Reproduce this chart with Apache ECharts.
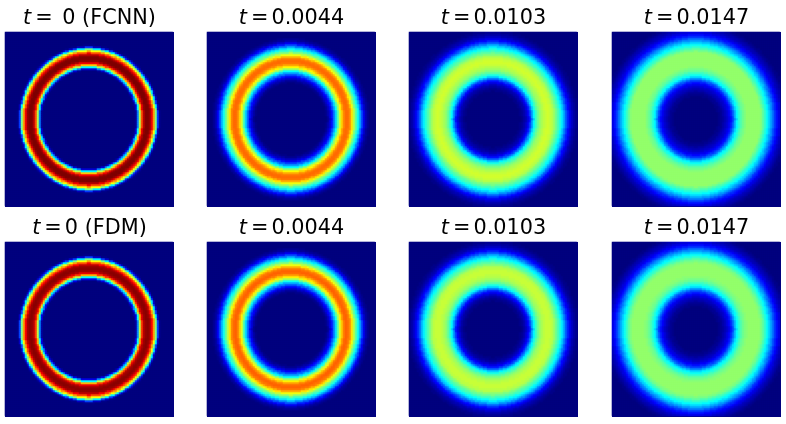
<!DOCTYPE html>
<html><head><meta charset="utf-8">
<style>html,body{margin:0;padding:0;background:#fff}#c{width:786px;height:424px}</style>
<script src="https://cdn.jsdelivr.net/npm/echarts@6/dist/echarts.min.js"></script>
</head><body><div id="c"></div>
<script>
// Each ring is stored as a radial profile: percent of full scale,
// one entry per half grid cell of radius, starting after the empty centre (hole).
const hole = n => Array(n).fill(0);
const cols = 84, rows = 87, refCells = 85;
const fcnn0 = hole(48).concat([2,8,25,37,55,68,80,89,95,98,100,100,100,100,98,95,89,80,72,62,50,36,18,6,1]);
const fcnn1 = hole(36).concat([1,2,4,6,8,11,14,19,23,28,33,38,45,52,58,63,67,71,74,76,77,77,77,76,74,70,65,61,56,51,47,43,39,35,30,25,20,15,11,8,5,3,2,1]);
const fcnn2 = hole(28).concat([1,1,2,3,4,5,7,9,11,14,18,22,27,32,37,40,43,46,48,50,52,53,54,55,56,57,57,58,58,58,57,57,56,55,53,51,49,47,45,43,41,38,36,33,30,26,22,19,16,13,11,9,7,5,4,3,2,1,1]);
const fcnn3 = hole(23).concat([1,1,2,2,3,4,5,6,7,8,10,11,13,15,18,21,25,29,33,37,39,41,43,45,47,48,49,50,51,52,52,52,52,52,52,52,52,52,52,52,52,52,52,51,49,47,45,43,41,39,37,34,32,29,27,24,21,18,16,14,12,10,9,7,6,5,4,3,2,1,1]);
const fdm0 = hole(48).concat([3,10,26,38,56,70,82,90,95,97,98,99,99,98,97,94,88,80,72,62,50,36,19,7,1]);
const fdm1 = hole(36).concat([1,2,4,6,9,12,15,20,24,29,34,39,46,53,59,64,68,72,75,77,78,78,77,76,74,70,65,61,56,51,47,43,39,35,30,25,20,15,11,8,5,3,2,1]);
const fdm2 = hole(28).concat([1,1,2,3,4,6,8,10,12,15,19,23,28,33,37,40,43,46,48,50,52,53,54,55,56,56,57,57,57,57,57,56,56,55,53,51,49,47,45,43,41,38,36,33,30,26,22,19,16,13,11,9,7,5,4,3,2,1,1]);
const fdm3 = hole(23).concat([1,1,2,2,3,4,5,6,7,9,10,12,14,16,19,22,26,30,34,37,39,41,43,45,47,48,49,50,51,51,52,52,52,52,52,52,52,52,52,52,52,52,51,50,49,47,45,43,41,39,37,34,32,29,27,24,21,18,16,14,12,10,9,7,6,5,4,3,2,1,1]);
const profiles = [fcnn0,fcnn1,fcnn2,fcnn3,fdm0,fdm1,fdm2,fdm3];

const panelLeft = [5,207,409,612], panelTop = [32,242], panelW = 169, panelH = 175;
const jet = ['#00007f','#0000ff','#007fff','#00ffff','#7fff7f','#ffff00','#ff7f00','#ff0000','#7f0000'];
const labels = ['{i|t}{e|=}{n| 0 (FCNN)}','{i|t}{e|=}{n|0.0044}','{i|t}{e|=}{n|0.0103}','{i|t}{e|=}{n|0.0147}',
 '{i|t}{e|=}{n|0 (FDM)}','{i|t}{e|=}{n|0.0044}','{i|t}{e|=}{n|0.0103}','{i|t}{e|=}{n|0.0147}'];
const font = 'DejaVu Sans', fs = 20.8, c = '#000';
const rich = {
  i:{fontFamily:font,fontSize:fs,fontStyle:'italic',fontWeight:'normal',color:c},
  e:{fontFamily:font,fontSize:fs,fontWeight:'normal',color:c,padding:[0,3,0,4]},
  n:{fontFamily:font,fontSize:fs,fontWeight:'normal',color:c}
};
const xCats = Array.from({length:cols},(_, i)=>i), yCats = Array.from({length:rows},(_, i)=>i);
const midX=(cols-1)/2, midY=(rows-1)/2;
const grid=[],xAxis=[],yAxis=[],series=[],title=[],graphic=[];
profiles.forEach((p,k)=>{
  const col=k%4,row=k>>2,data=[];
  for(let j=0;j<rows;j++)for(let i=0;i<cols;i++){
    const r=Math.hypot((i-midX)*refCells/cols,(j-midY)*refCells/rows);
    data.push([i,j,p[Math.round(2*r)]||0]);
  }
  grid.push({left:panelLeft[col],top:panelTop[row],width:cols*2,height:rows*2});
  graphic.push({type:'rect',z:-10,silent:true,shape:{x:panelLeft[col],y:panelTop[row],width:panelW,height:panelH},style:{fill:jet[0]}});
  xAxis.push({type:'category',gridIndex:k,data:xCats,show:false});
  yAxis.push({type:'category',gridIndex:k,data:yCats,show:false});
  series.push({type:'heatmap',xAxisIndex:k,yAxisIndex:k,data,progressive:0,animation:false,itemStyle:{borderWidth:0}});
  title.push({text:labels[k],left:panelLeft[col]+panelW/2,top:panelTop[row]-24,textAlign:'center',padding:0,textStyle:{rich,fontFamily:font,fontSize:fs,fontWeight:'normal'}});
});
const chart=echarts.init(document.getElementById('c'),null,{renderer:'canvas'});
chart.setOption({animation:false,backgroundColor:'#fff',title,grid,xAxis,yAxis,series,graphic,
  visualMap:{show:false,type:'continuous',min:0,max:100,dimension:2,seriesIndex:series.map((_, i)=>i),inRange:{color:jet}}});
</script></body></html>
